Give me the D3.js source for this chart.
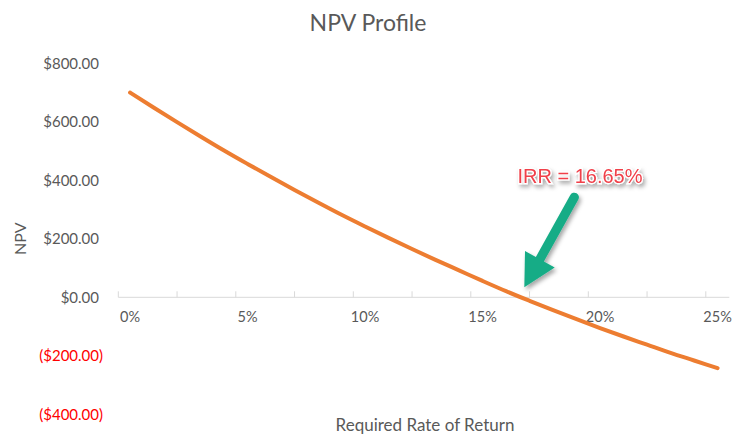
<!DOCTYPE html>
<html>
<head>
<meta charset="utf-8">
<script src="https://cdn.jsdelivr.net/npm/d3@7"></script>
<style>
  html, body { margin: 0; padding: 0; background: #ffffff; }
  svg { display: block; }
</style>
</head>
<body>
<svg id="chart" width="732" height="436"></svg>
<script>
// Discount rates (%) and the project's NPV at each rate
const rates = [0, 1, 2, 3, 4, 5, 6, 7, 8, 9, 10, 11, 12, 13, 14, 15, 16, 17, 18, 19, 20, 21, 22, 23, 24, 25];
const npvValues = [700, 649, 599, 550, 502, 456, 411, 367, 324, 282, 242, 203, 165, 128, 92, 56, 21, -12, -44, -75, -105, -134, -162, -190, -216, -242];

// Axis labelling
const yTicks = [-400, -200, 0, 200, 400, 600, 800];
const xLabelValues = [0, 5, 10, 15, 20, 25];
const xTickMarks = [-0.5, 2, 4.5, 7, 9.5, 12, 14.5, 17, 19.5, 22, 24.5];
const xAxisSpan = [-0.5, 25.5];

// Internal rate of return annotated on the chart
const irr = 16.65;

const chartTitle = "NPV Profile";
const yTitle = "NPV";
const xTitle = "Required Rate of Return";

const svg = d3.select("#chart");

const x = d3.scaleLinear().domain([-0.5, 25.5]).range([118.3, 729.3]);
const y = d3.scaleLinear().domain([0, 800]).range([297.3, 63.3]);

const money = v => v < 0
  ? "($" + d3.format(",.2f")(-v) + ")"
  : "$" + d3.format(",.2f")(v);

const font = "Lato, 'Open Sans', sans-serif";
const grey = "#595959";

const defs = svg.append("defs");
const shadow = defs.append("filter").attr("id", "soft-shadow")
  .attr("x", "-30%").attr("y", "-30%").attr("width", "160%").attr("height", "160%");
shadow.append("feDropShadow")
  .attr("dx", 2).attr("dy", 3).attr("stdDeviation", 2.2)
  .attr("flood-color", "#000").attr("flood-opacity", 0.35);

// Title
svg.append("text")
  .attr("x", 368).attr("y", 31)
  .attr("text-anchor", "middle")
  .attr("font-family", font)
  .attr("font-size", 23)
  .attr("fill", grey)
  .text(chartTitle);

// Y axis labels (value axis, no line)
svg.append("g").selectAll("text")
  .data(yTicks)
  .join("text")
  .attr("x", d => d < 0 ? 103 : 99)
  .attr("y", d => y(d))
  .attr("dy", "0.35em")
  .attr("text-anchor", "end")
  .attr("font-family", font)
  .attr("font-size", 15)
  .attr("fill", d => d < 0 ? "#FF0000" : grey)
  .text(money);

// Y axis title
svg.append("text")
  .attr("transform", `translate(26, ${y(200)}) rotate(-90)`)
  .attr("text-anchor", "middle")
  .attr("font-family", font)
  .attr("font-size", 16)
  .attr("fill", grey)
  .text(yTitle);

// Horizontal axis line at NPV = 0 with tick marks
const axisG = svg.append("g");
axisG.append("line")
  .attr("x1", x(xAxisSpan[0])).attr("x2", x(xAxisSpan[1]))
  .attr("y1", y(0)).attr("y2", y(0))
  .attr("stroke", "#D9D9D9").attr("stroke-width", 1);
axisG.selectAll("line.tick")
  .data(xTickMarks)
  .join("line")
  .attr("class", "tick")
  .attr("x1", d => x(d)).attr("x2", d => x(d))
  .attr("y1", y(0)).attr("y2", y(0) - 6)
  .attr("stroke", "#D9D9D9").attr("stroke-width", 1);

// Rate labels
svg.append("g").selectAll("text")
  .data(xLabelValues)
  .join("text")
  .attr("x", d => x(d))
  .attr("y", 322)
  .attr("text-anchor", "middle")
  .attr("font-family", font)
  .attr("font-size", 14.5)
  .attr("fill", grey)
  .text(d => d + "%");

// X axis title
svg.append("text")
  .attr("x", 425).attr("y", 431)
  .attr("text-anchor", "middle")
  .attr("font-family", font)
  .attr("font-size", 17)
  .attr("fill", grey)
  .text(xTitle);

// NPV profile line
const points = rates.map((r, i) => [r, npvValues[i]]);
svg.append("path")
  .datum(points)
  .attr("d", d3.line().x(d => x(d[0])).y(d => y(d[1])).curve(d3.curveMonotoneX))
  .attr("fill", "none")
  .attr("stroke", "#ED7D31")
  .attr("stroke-width", 4)
  .attr("stroke-linecap", "round")
  .attr("stroke-linejoin", "round");

// Arrow pointing at the IRR crossing
const tipX = x(irr) + 3, tipY = y(0) - 10;
const tail = [tipX + 50, tipY - 90];
const ang = Math.atan2(tipY - tail[1], tipX - tail[0]);
const headLen = 32, headHalf = 17, shaftHalf = 4.6;
const ux = Math.cos(ang), uy = Math.sin(ang);
const px = -uy, py = ux;
const bx = tipX - ux * headLen, by = tipY - uy * headLen;
const arrowPath = d3.path();
arrowPath.moveTo(tail[0] + px * shaftHalf, tail[1] + py * shaftHalf);
arrowPath.lineTo(bx + px * shaftHalf, by + py * shaftHalf);
arrowPath.lineTo(bx + px * headHalf, by + py * headHalf);
arrowPath.lineTo(tipX, tipY);
arrowPath.lineTo(bx - px * headHalf, by - py * headHalf);
arrowPath.lineTo(bx - px * shaftHalf, by - py * shaftHalf);
arrowPath.lineTo(tail[0] - px * shaftHalf, tail[1] - py * shaftHalf);
arrowPath.arc(tail[0], tail[1], shaftHalf, ang - Math.PI / 2 + Math.PI, ang + Math.PI / 2 + Math.PI, false);
arrowPath.closePath();
svg.append("path")
  .attr("d", arrowPath.toString())
  .attr("fill", "#16AC86")
  .attr("filter", "url(#soft-shadow)");

// IRR label
svg.append("text")
  .attr("x", 580).attr("y", 183)
  .attr("text-anchor", "middle")
  .attr("font-family", "'Liberation Sans', Arial, sans-serif")
  .attr("font-size", 20)
  .attr("fill", "#F0404A")
  .attr("stroke", "#ffffff")
  .attr("stroke-width", 2.5)
  .attr("paint-order", "stroke")
  .attr("filter", "url(#soft-shadow)")
  .text("IRR = " + irr.toFixed(2) + "%");
</script>
</body>
</html>
